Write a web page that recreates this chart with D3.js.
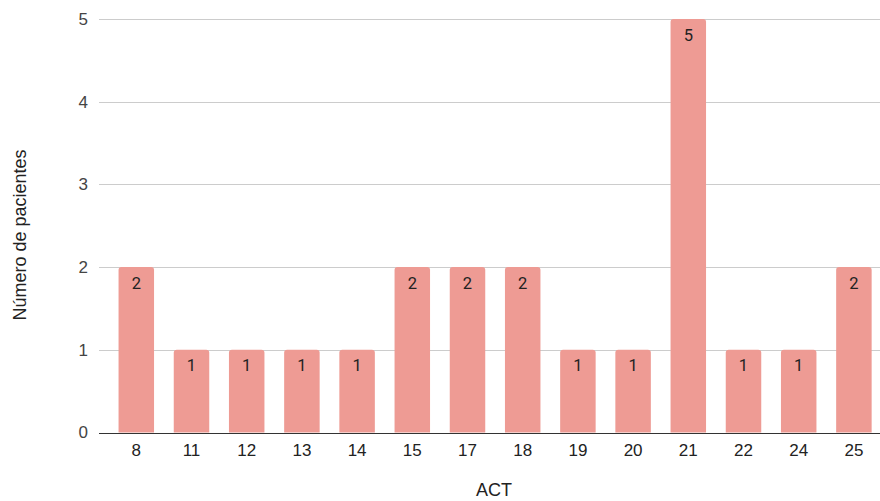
<!DOCTYPE html>
<html><head><meta charset="utf-8">
<script src="https://cdn.jsdelivr.net/npm/d3@7"></script>
<style>body{margin:0;background:#fff}</style>
</head><body>
<svg id="c" width="880" height="501"></svg>
<script>
const categories = ["8","11","12","13","14","15","17","18","19","20","21","22","24","25"];
const values = [2,1,1,1,1,2,2,2,1,1,5,1,1,2];
const yTicks = [0,1,2,3,4,5];
const xTitle = "ACT";
const yTitle = "Número de pacientes";

const svg = d3.select("#c");
const plotLeft = 99, plotRight = 880;
const x = d3.scaleBand().domain(categories).range([108.7, 881.5]).paddingInner(0.357).paddingOuter(0.1785);
const y = d3.scaleLinear().domain([0,5]).range([432.5, 19]);
const fontA = "Arial, 'Liberation Sans', sans-serif";

svg.append("g").selectAll("line").data(yTicks.filter(d=>d>0)).join("line")
  .attr("x1", plotLeft).attr("x2", plotRight)
  .attr("y1", d=>Math.round(y(d))+0.5).attr("y2", d=>Math.round(y(d))+0.5)
  .attr("stroke", "#cccccc").attr("stroke-width", 1);

svg.append("g").selectAll("text").data(yTicks).join("text")
  .attr("x", 88).attr("y", d=>y(d)).attr("dy","0.35em")
  .attr("text-anchor","end")
  .attr("font-family",fontA).attr("font-size",17).attr("fill","#444")
  .text(d=>d);

const r = 3;
function barPath(x0, w, yTop, yBase){
  return `M${x0},${yBase}V${yTop+r}Q${x0},${yTop} ${x0+r},${yTop}H${x0+w-r}Q${x0+w},${yTop} ${x0+w},${yTop+r}V${yBase}Z`;
}
svg.append("g").selectAll("path").data(categories).join("path")
  .attr("d",(c,i)=>barPath(x(c), x.bandwidth(), y(values[i]), y(0)))
  .attr("fill","#ee9b94");

svg.append("g").selectAll("text").data(categories).join("text")
  .attr("x",c=>x(c)+x.bandwidth()/2)
  .attr("y",(c,i)=>y(values[i])+21.5)
  .attr("text-anchor","middle")
  .attr("font-family","Roboto, Arial, sans-serif").attr("font-size",16.5).attr("fill","#222")
  .text((c,i)=>values[i]);

svg.append("line").attr("x1",plotLeft).attr("x2",plotRight)
  .attr("y1",Math.round(y(0))+0.5).attr("y2",Math.round(y(0))+0.5)
  .attr("stroke","#333").attr("stroke-width",1);

svg.append("g").selectAll("text").data(categories).join("text")
  .attr("x",c=>x(c)+x.bandwidth()/2).attr("y",456)
  .attr("text-anchor","middle")
  .attr("font-family",fontA).attr("font-size",17).attr("fill","#222")
  .text(c=>c);

svg.append("text").attr("x",494).attr("y",496).attr("text-anchor","middle")
  .attr("font-family",fontA).attr("font-size",18).attr("fill","#222")
  .text(xTitle);
svg.append("text").attr("transform","translate(26,235) rotate(-90)").attr("text-anchor","middle")
  .attr("font-family",fontA).attr("font-size",18).attr("fill","#222")
  .text(yTitle);
</script>
</body></html>
